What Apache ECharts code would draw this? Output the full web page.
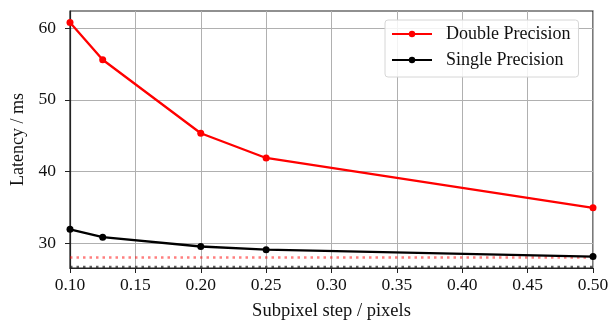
<!DOCTYPE html>
<html>
<head>
<meta charset="utf-8">
<script src="https://cdn.jsdelivr.net/npm/echarts@6/dist/echarts.min.js"></script>
<style>
  html, body { margin: 0; padding: 0; background: #fff; }
  #chart { width: 616px; height: 327px; }
</style>
</head>
<body>
<div id="chart"></div>
<script>
const steps = [0.1, 0.125, 0.2, 0.25, 0.5]
const doublePrecision = [60.8, 55.6, 45.35, 41.9, 34.95]
const singlePrecision = [31.95, 30.85, 29.55, 29.1, 28.15]
// horizontal reference levels (dotted)
const doubleRef = 28.0
const singleRef = 26.7
const yTicks = [30, 40, 50, 60]

const font = 'Liberation Serif'
const chart = echarts.init(document.getElementById('chart'), null, { renderer: 'canvas' })

const pairs = (ys) => steps.map((x, i) => [x, ys[i]])
const flat = (v) => [[steps[0], v], [steps[steps.length - 1], v]]

chart.setOption({
  animation: false,
  textStyle: { fontFamily: font },
  grid: {
    left: 70, right: 23, top: 11, bottom: 59,
    show: true, borderColor: '#222', borderWidth: 1.2,
  },
  legend: {
    data: ['Double Precision', 'Single Precision'],
    orient: 'vertical',
    left: 385, top: 20,
    itemWidth: 40, itemHeight: 8, itemGap: 8,
    padding: [5, 8, 8, 6],
    borderColor: '#d6d6d6', borderWidth: 1, borderRadius: 3,
    backgroundColor: 'rgba(255,255,255,0.85)',
    textStyle: { fontFamily: font, fontSize: 18, color: '#111', padding: [0, 0, 0, 9] },
  },
  xAxis: {
    type: 'value',
    min: 0.1, max: 0.5, interval: 0.05,
    name: 'Subpixel step / pixels',
    nameLocation: 'middle', nameGap: 34,
    nameTextStyle: { fontFamily: font, fontSize: 18.5, color: '#111' },
    axisLine: { show: true, onZero: false, lineStyle: { color: '#222', width: 1.2 } },
    axisTick: { show: true, inside: false, length: 5, lineStyle: { color: '#222' } },
    axisLabel: {
      fontFamily: font, fontSize: 17.5, color: '#111', margin: 8,
      formatter: (v) => v.toFixed(2),
    },
    splitLine: { show: true, lineStyle: { color: '#b0b0b0', width: 1 } },
  },
  yAxis: {
    type: 'value',
    min: 26.55, max: 62.4,
    name: 'Latency / ms',
    nameLocation: 'middle', nameGap: 37, nameRotate: 90,
    nameTextStyle: { fontFamily: font, fontSize: 18, color: '#111' },
    axisLine: { show: true, lineStyle: { color: '#222', width: 1.2 } },
    axisTick: { show: true, length: 5, customValues: yTicks, lineStyle: { color: '#222' } },
    axisLabel: {
      fontFamily: font, fontSize: 17.5, color: '#111', margin: 14,
      customValues: yTicks,
    },
    splitLine: { show: true, lineStyle: { color: '#b0b0b0', width: 1 } },
  },
  series: [
    {
      name: 'Double Precision ref', type: 'line', data: flat(doubleRef),
      showSymbol: false, silent: true,
      lineStyle: { color: 'rgba(255,0,0,0.5)', width: 2.5, type: [2.5, 4] },
    },
    {
      name: 'Single Precision ref', type: 'line', data: flat(singleRef),
      showSymbol: false, silent: true,
      lineStyle: { color: 'rgba(30,30,30,0.7)', width: 2.5, type: [2.5, 4] },
    },
    {
      name: 'Double Precision', type: 'line', data: pairs(doublePrecision),
      symbol: 'circle', symbolSize: 7, color: '#ff0000',
      lineStyle: { width: 2.3, color: '#ff0000' }, itemStyle: { color: '#ff0000' },
    },
    {
      name: 'Single Precision', type: 'line', data: pairs(singlePrecision),
      symbol: 'circle', symbolSize: 7, color: '#000',
      lineStyle: { width: 2.3, color: '#000' }, itemStyle: { color: '#000' },
    },
  ],
})
</script>
</body>
</html>
